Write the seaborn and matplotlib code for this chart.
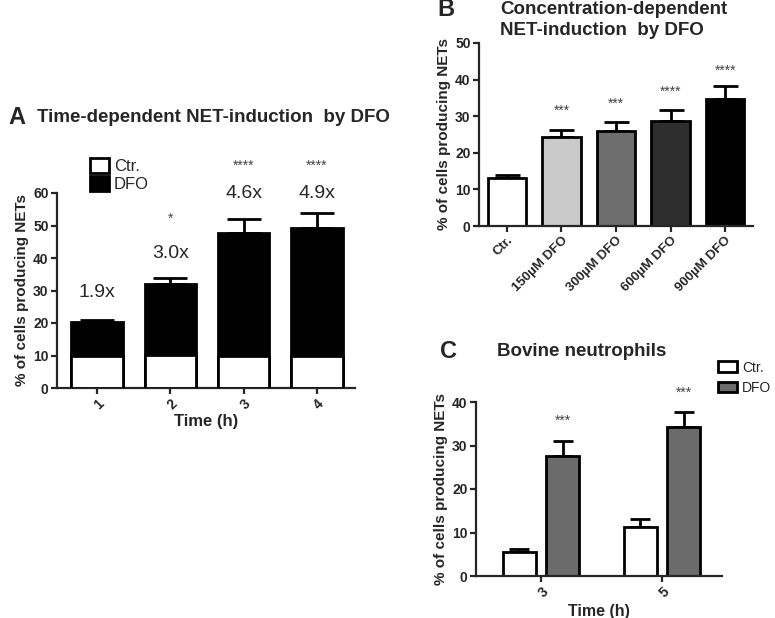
import numpy as np
import pandas as pd
import seaborn as sns
import matplotlib.pyplot as plt
from matplotlib.patches import Patch

# Panel A: time course, stacked Ctr./DFO
a_times = ['1', '2', '3', '4']
a_ctrl = [10.0, 10.2, 10.0, 9.8]
a_dfo_total = [20.2, 32.0, 47.8, 49.3]
a_dfo_err = [0.8, 1.8, 4.2, 4.5]
a_fold = ['1.9x', '3.0x', '4.6x', '4.9x']
a_fold_y = [29.5, 41.5, 60.0, 60.0]
a_stars = ['', '*', '****', '****']
a_stars_y = [0, 52.0, 68.5, 68.5]

# Panel B: concentration series
b_labels = ['Ctr.', '150µM DFO', '300µM DFO', '600µM DFO', '900µM DFO']
b_values = [13.0, 24.3, 26.0, 28.8, 34.8]
b_err = [0.8, 2.0, 2.3, 2.8, 3.4]
b_colors = ['white', '#c9c9c9', '#6e6e6e', '#2e2e2e', 'black']
b_stars = ['', '***', '***', '****', '****']
b_stars_y = [0, 31.5, 33.5, 36.8, 42.3]

# Panel C: bovine neutrophils
c_times = ['3', '5']
c_ctrl = [5.5, 11.3]
c_ctrl_err = [0.8, 1.7]
c_dfo = [27.5, 34.3]
c_dfo_err = [3.5, 3.5]
c_stars_y = [35.6, 42.2]

sns.set_style('ticks')
plt.rcParams['font.family'] = ['Liberation Sans', 'DejaVu Sans']
plt.rcParams['axes.linewidth'] = 1.6
plt.rcParams['xtick.major.width'] = 1.6
plt.rcParams['ytick.major.width'] = 1.6
plt.rcParams['xtick.major.size'] = 4
plt.rcParams['ytick.major.size'] = 4

W, H = 775, 618
fig = plt.figure(figsize=(7.75, 6.18), dpi=100)


def px_axes(x0, y0, x1, y1):
    # axes from pixel box (left, top, right, bottom)
    return fig.add_axes([x0 / W, 1 - y1 / H, (x1 - x0) / W, (y1 - y0) / H])


def style_axis(ax, ymax, step):
    sns.despine(ax=ax)
    ax.set_ylim(0, ymax)
    ax.set_yticks(np.arange(0, ymax + 1, step))
    ax.tick_params(labelsize=10, pad=2)
    for lab in ax.get_yticklabels():
        lab.set_fontweight('bold')
    ax.set_xlabel('')
    ax.set_ylabel('% of cells producing NETs', fontsize=11, fontweight='bold',
                  labelpad=3)


def upper_err(ax, xs, ys, errs, cap):
    ax.errorbar(xs, ys, yerr=[np.zeros(len(errs)), errs], fmt='none',
                ecolor='black', elinewidth=2, capsize=cap, capthick=2,
                clip_on=False, zorder=1)


def stars(ax, x, y, s):
    ax.text(x, y, s, ha='center', va='center', fontsize=10,
            color='#444444', clip_on=False)


# ---- A ----
axA = px_axes(57, 193, 355, 388)
sns.barplot(x=a_times, y=a_dfo_total, color='black', edgecolor='black',
            linewidth=2, width=0.7, errorbar=None, ax=axA, zorder=2)
sns.barplot(x=a_times, y=a_ctrl, color='white', edgecolor='black',
            linewidth=2, width=0.7, errorbar=None, ax=axA, zorder=3)
upper_err(axA, np.arange(len(a_times)), a_dfo_total, a_dfo_err, 12)
axA.set_xlim(-0.545, 3.52)
style_axis(axA, 60, 10)
axA.set_xticks(range(len(a_times)))
axA.set_xticklabels(a_times, rotation=45, ha='right', rotation_mode='anchor',
                    fontweight='bold', fontsize=10)
axA.set_xlabel('Time (h)', fontsize=12, fontweight='bold', labelpad=2)
for i in range(len(a_times)):
    axA.text(i, a_fold_y[i], a_fold[i], ha='center', va='center',
             fontsize=14, clip_on=False)
    if a_stars[i]:
        stars(axA, i, a_stars_y[i], a_stars[i])
axA.legend(handles=[Patch(facecolor='white', edgecolor='black', linewidth=2, label='Ctr.'),
                    Patch(facecolor='black', edgecolor='black', linewidth=2, label='DFO')],
           loc='lower left', bbox_to_anchor=(0.09, 0.97), frameon=False,
           fontsize=12, handlelength=1.1, handleheight=1.0, handletextpad=0.3,
           labelspacing=0.1, borderaxespad=0)
fig.text(8 / W, 1 - 117 / H, 'A', fontsize=17, fontweight='bold', va='center')
fig.text(37 / W, 1 - 117 / H, 'Time-dependent NET-induction  by DFO',
         fontsize=13.5, fontweight='bold', va='center')

# ---- B ----
axB = px_axes(479, 43, 753, 226)
sns.barplot(x=b_labels, y=b_values, hue=b_labels, palette=b_colors,
            edgecolor='black', linewidth=2, width=0.7, errorbar=None,
            legend=False, ax=axB, zorder=2)
upper_err(axB, np.arange(len(b_labels)), b_values, b_err, 9)
axB.set_xlim(-0.51, 4.51)
style_axis(axB, 50, 10)
axB.set_xticks(range(len(b_labels)))
axB.set_xticklabels(b_labels, rotation=45, ha='right', rotation_mode='anchor',
                    fontweight='bold', fontsize=9.5)
for i in range(len(b_labels)):
    if b_stars[i]:
        stars(axB, i, b_stars_y[i], b_stars[i])
fig.text(437 / W, 1 - 10 / H, 'B', fontsize=17, fontweight='bold', va='center')
fig.text(500 / W, 1 - 1 / H, 'Concentration-dependent\nNET-induction  by DFO',
         fontsize=13.5, fontweight='bold', va='top', linespacing=1.3)

# ---- C ----
axC = px_axes(476, 402, 722, 576)
c_df = pd.DataFrame({
    'time': c_times * 2,
    'group': ['Ctr.'] * 2 + ['DFO'] * 2,
    'value': c_ctrl + c_dfo,
})
sns.barplot(data=c_df, x='time', y='value', hue='group',
            palette=['white', '#6b6b6b'], edgecolor='black', linewidth=2,
            width=0.72, gap=0.25, errorbar=None, legend=False, ax=axC, zorder=2)
for cont, vals, errs in zip(axC.containers, [c_ctrl, c_dfo], [c_ctrl_err, c_dfo_err]):
    xs = [b.get_x() + b.get_width() / 2 for b in cont]
    upper_err(axC, xs, vals, errs, 7)
    if vals is c_dfo:
        for x, sy in zip(xs, c_stars_y):
            stars(axC, x, sy, '***')
axC.set_xlim(-0.537, 1.496)
style_axis(axC, 40, 10)
axC.set_xticks(range(len(c_times)))
axC.set_xticklabels(c_times, rotation=45, ha='right', rotation_mode='anchor',
                    fontweight='bold', fontsize=10)
axC.set_xlabel('Time (h)', fontsize=11.5, fontweight='bold', labelpad=3)
axC.legend(handles=[Patch(facecolor='white', edgecolor='black', linewidth=2, label='Ctr.'),
                    Patch(facecolor='#6b6b6b', edgecolor='black', linewidth=2, label='DFO')],
           loc='upper left', bbox_to_anchor=(0.96, 1.27), frameon=False,
           fontsize=10, handlelength=1.4, handleheight=0.8, handletextpad=0.35,
           labelspacing=0.45, borderaxespad=0)
fig.text(440 / W, 1 - 352 / H, 'C', fontsize=17, fontweight='bold', va='center')
fig.text(497 / W, 1 - 352 / H, 'Bovine neutrophils',
         fontsize=13.5, fontweight='bold', va='center')

fig.savefig('out.png', dpi=100)
